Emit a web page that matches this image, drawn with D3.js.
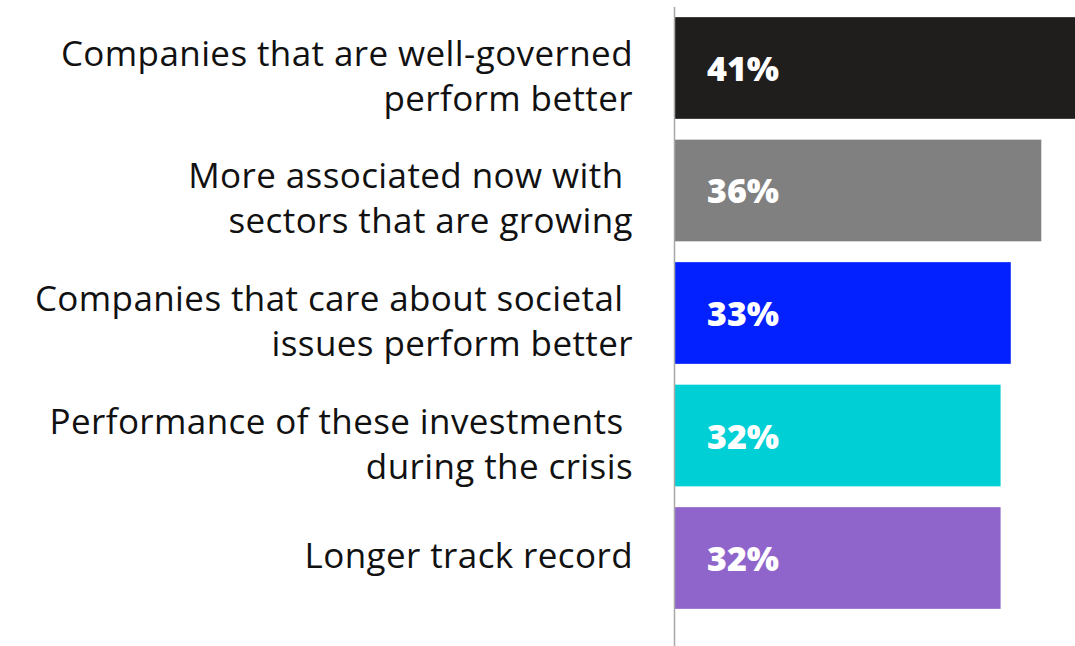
<!DOCTYPE html>
<html>
<head>
<meta charset="utf-8">
<script src="https://cdn.jsdelivr.net/npm/d3@7"></script>
<style>
  html, body { margin: 0; padding: 0; background: #ffffff; }
  svg { display: block; }
  text { font-family: "Open Sans", Lato, sans-serif; }
</style>
</head>
<body>
<svg id="chart" width="1075" height="646"></svg>
<script>
// Reasons cited for the appeal of these investments (share of respondents, %)
const categories = [
  ["Companies that are well-governed", "perform better"],
  ["More associated now with ", "sectors that are growing"],
  ["Companies that care about societal ", "issues perform better"],
  ["Performance of these investments ", "during the crisis"],
  ["Longer track record"]
];
const values = [41, 36, 33, 32, 32];
const valueLabels = ["41%", "36%", "33%", "32%", "32%"];
const barColors = ["#1f1e1d", "#808080", "#0320ff", "#00cfd6", "#9065cb"];

const width = 1075, height = 646;
const axisX = 675;

const svg = d3.select("#chart");

const keys = d3.range(values.length);

const y = d3.scaleBand()
  .domain(keys)
  .range([0, 626])
  .paddingInner(0.17)
  .paddingOuter(0.14);

const x = d3.scaleLinear()
  .domain([0, 40])
  .range([axisX, axisX + 407]);

// Bars (the longest one runs off the right edge)
svg.append("g")
  .selectAll("rect")
  .data(keys)
  .join("rect")
    .attr("x", x(0))
    .attr("y", i => y(i))
    .attr("width", i => x(values[i]) - x(0))
    .attr("height", y.bandwidth())
    .attr("fill", i => barColors[i]);

// Baseline axis on the left of the bars
svg.append("line")
  .attr("x1", axisX - 0.5).attr("x2", axisX - 0.5)
  .attr("y1", 7).attr("y2", height)
  .attr("stroke", "#a8a8a8")
  .attr("stroke-width", 1.5);

// Value labels inside the bars
svg.append("g")
  .selectAll("text")
  .data(keys)
  .join("text")
    .attr("x", x(0) + 32)
    .attr("y", i => y(i) + y.bandwidth() / 2 + 13)
    .attr("fill", "#ffffff")
    .attr("font-family", "Lato, sans-serif")
    .attr("font-size", 34)
    .attr("font-weight", 800)
    .text(i => valueLabels[i]);

// Category labels, right-aligned against the axis
const lineGap = 45;
const labels = svg.append("g")
  .selectAll("text")
  .data(keys)
  .join("text")
    .attr("text-anchor", "end")
    .attr("fill", "#111111")
    .attr("font-size", 35)
    .attr("letter-spacing", 0.4)
    .style("white-space", "pre")
    .attr("y", i => {
      const n = categories[i].length;
      return y(i) + y.bandwidth() / 2 + 10 - (n - 1) * 12;
    });

labels.selectAll("tspan")
  .data(i => categories[i])
  .join("tspan")
    .attr("x", 633)
    .attr("dy", (d, j) => j === 0 ? 0 : lineGap)
    .text(d => d);
</script>
</body>
</html>
